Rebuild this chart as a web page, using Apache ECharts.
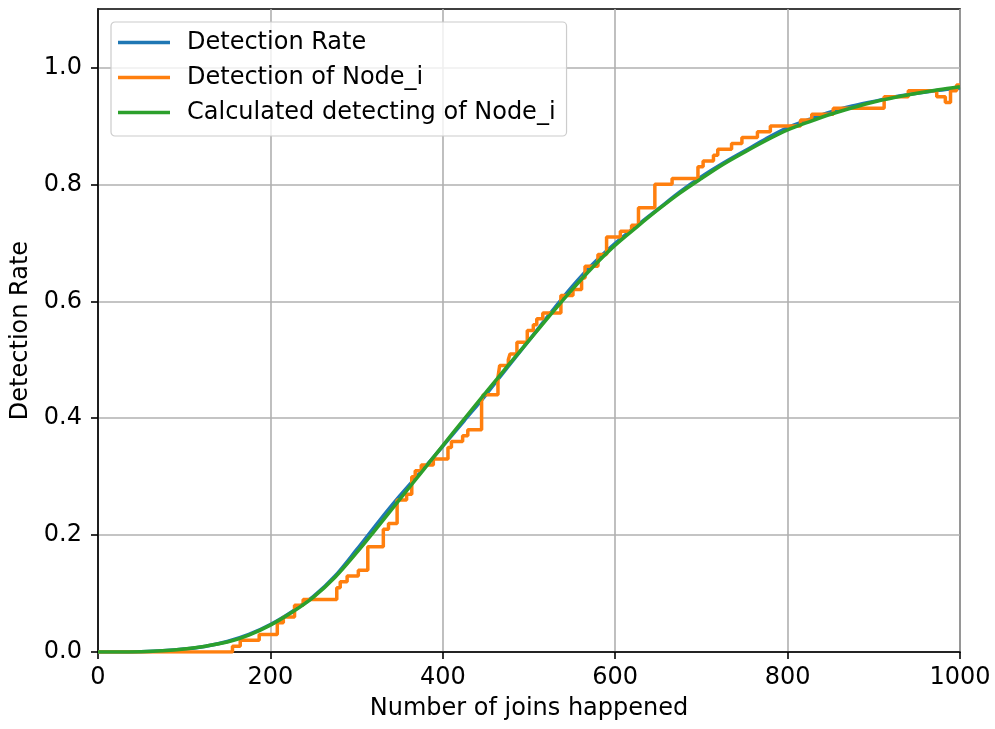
<!DOCTYPE html>
<html>
<head>
<meta charset="utf-8">
<script src="https://cdn.jsdelivr.net/npm/echarts@6/dist/echarts.min.js"></script>
<style>html,body{margin:0;padding:0;background:#fff;}#c{width:995px;height:729px;}</style>
</head>
<body>
<div id="c"></div>
<script>
const seriesNames = ['Detection Rate', 'Detection of Node_i', 'Calculated detecting of Node_i'];
const xTicks = [0, 200, 400, 600, 800, 1000];
const yTicks = [0, 0.2, 0.4, 0.6, 0.8, 1.0];

const detectionRate = [
  [0,0],[25,0.0001],[50,0.0006],[75,0.002],[100,0.005],[125,0.010],[150,0.018],[175,0.030],
  [200,0.047],[225,0.069],[250,0.095],[275,0.130],[300,0.175],[325,0.222],[350,0.267],
  [375,0.309],[400,0.352],[425,0.396],[450,0.440],[475,0.487],[500,0.533],[525,0.580],
  [550,0.625],[575,0.665],[600,0.699],[625,0.729],[650,0.758],[675,0.787],[700,0.813],
  [725,0.836],[750,0.857],[775,0.878],[800,0.897],[825,0.911],[850,0.924],[875,0.934],
  [900,0.942],[925,0.950],[950,0.956],[975,0.961],[1000,0.965]
];

const nodeDetection = [
  [0,0],[156,0.01],[165,0.02],[187,0.03],[208,0.05],[215,0.06],[228,0.08],[238,0.09],
  [277,0.11],[281,0.12],[289,0.13],[302,0.14],[313,0.18],[331,0.21],[337,0.22],[347,0.26],
  [358,0.27],[364,0.30],[368,0.31],[375,0.32],[389,0.33],[406,0.35],[410,0.36],[423,0.37],
  [429,0.38],[445,0.43],[447,0.44],[464,0.47],[466,0.49],[476,0.50],[478,0.51],[486,0.53],
  [498,0.55],[505,0.56],[509,0.57],[516,0.58],[537,0.61],[551,0.62],[561,0.64],[565,0.66],
  [580,0.68],[590,0.71],[606,0.72],[619,0.73],[627,0.76],[646,0.80],[666,0.81],[696,0.83],
  [702,0.84],[714,0.85],[719,0.86],[735,0.87],[747,0.88],[765,0.89],[780,0.90],[815,0.91],
  [828,0.92],[853,0.93],[912,0.95],[940,0.96],[973,0.95],[983,0.94],[989,0.96],[996,0.97],
  [1000,0.97]
];

const calculated = [
  [0,0],[25,0.0001],[50,0.0005],[75,0.002],[100,0.005],[125,0.010],[150,0.017],[175,0.029],
  [200,0.046],[225,0.068],[250,0.094],[275,0.128],[300,0.170],[325,0.215],[350,0.261],
  [375,0.307],[400,0.353],[425,0.399],[450,0.444],[475,0.489],[500,0.533],[525,0.577],
  [550,0.620],[575,0.660],[600,0.696],[625,0.727],[650,0.757],[675,0.785],[700,0.810],
  [725,0.834],[750,0.855],[775,0.875],[800,0.893],[825,0.907],[850,0.920],[875,0.931],
  [900,0.941],[925,0.949],[950,0.956],[975,0.962],[1000,0.967]
];

const FONT = 'DejaVu Sans';
const FS = 24;
const chart = echarts.init(document.getElementById('c'), null, {renderer: 'canvas'});
chart.setOption({
  animation: false,
  backgroundColor: '#ffffff',
  color: ['#1f77b4', '#ff7f0e', '#2ca02c'],
  grid: {left: 98, right: 35, top: 9, bottom: 77, show: true, borderColor: '#000', borderWidth: 1.6, backgroundColor: 'transparent'},
  legend: {
    orient: 'vertical', left: 111, top: 22,
    data: seriesNames,
    icon: 'rect', itemWidth: 52, itemHeight: 3.5, itemGap: 8,
    padding: [7, 11, 10, 7],
    backgroundColor: 'rgba(255,255,255,0.8)', borderColor: '#cccccc', borderWidth: 1.2, borderRadius: 4,
    textStyle: {fontFamily: FONT, fontSize: FS, color: '#000', lineHeight: 27, padding: [0, 0, 0, 12]}
  },
  xAxis: {
    type: 'value', min: 0, max: 1000, interval: 200,
    name: 'Number of joins happened', nameLocation: 'middle', nameGap: 45,
    nameTextStyle: {fontFamily: FONT, fontSize: FS, color: '#000'},
    axisLine: {show: true, lineStyle: {color: '#000', width: 1.6}},
    axisTick: {show: true, inside: false, length: 7, lineStyle: {color: '#000', width: 1.6}, customValues: xTicks},
    axisLabel: {fontFamily: FONT, fontSize: FS, color: '#000', margin: 14, customValues: xTicks,
      formatter: v => String(v)},
    splitLine: {show: true, lineStyle: {color: '#b0b0b0', width: 1.6}}
  },
  yAxis: {
    type: 'value', min: 0, max: 1.1, interval: 0.2,
    name: 'Detection Rate', nameLocation: 'middle', nameGap: 64, nameRotate: 90,
    nameTextStyle: {fontFamily: FONT, fontSize: FS, color: '#000'},
    axisLine: {show: true, lineStyle: {color: '#000', width: 1.6}},
    axisTick: {show: true, inside: false, length: 7, lineStyle: {color: '#000', width: 1.6}, customValues: yTicks},
    axisLabel: {fontFamily: FONT, fontSize: FS, color: '#000', margin: 16, customValues: yTicks,
      formatter: v => Number(v).toFixed(1)},
    splitLine: {show: true, lineStyle: {color: '#b0b0b0', width: 1.6}}
  },
  series: [
    {name: seriesNames[0], type: 'line', data: detectionRate, smooth: 0.3, showSymbol: false, symbol: 'none',
      lineStyle: {width: 3.5, color: '#1f77b4'}, z: 2},
    {name: seriesNames[1], type: 'line', data: nodeDetection, step: 'end', showSymbol: false, symbol: 'none',
      lineStyle: {width: 3.5, color: '#ff7f0e'}, z: 3},
    {name: seriesNames[2], type: 'line', data: calculated, smooth: 0.3, showSymbol: false, symbol: 'none',
      lineStyle: {width: 3.5, color: '#2ca02c'}, z: 4}
  ]
});
</script>
</body>
</html>
